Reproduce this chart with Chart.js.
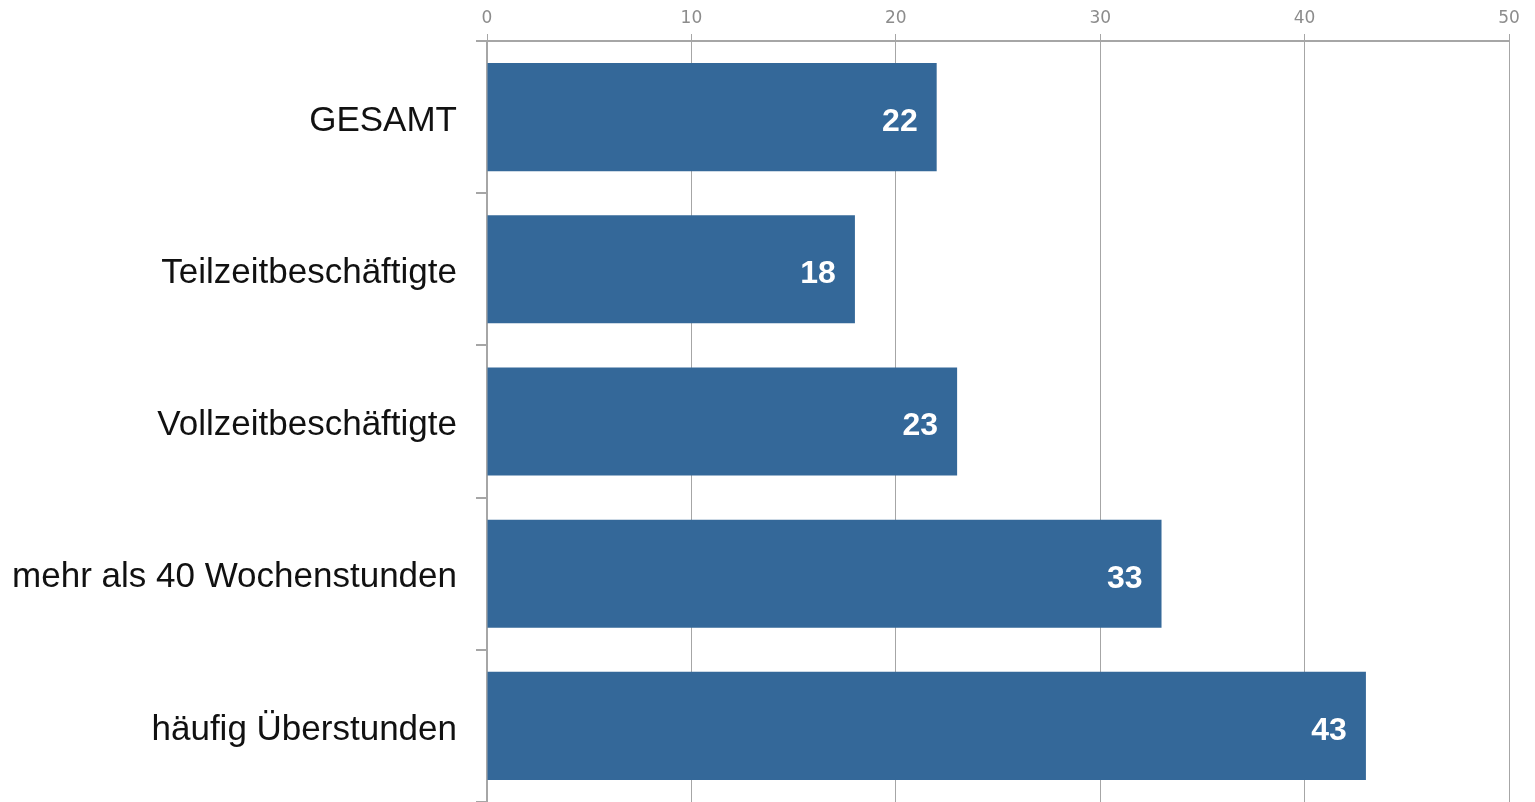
<!DOCTYPE html>
<html>
<head>
<meta charset="utf-8">
<script src="https://cdn.jsdelivr.net/npm/chart.js@4/dist/chart.umd.min.js"></script>
<style>
html,body{margin:0;padding:0;background:#fff;}
#wrap{width:1535px;height:802px;}
</style>
</head>
<body>
<div id="wrap"><canvas id="c" width="1535" height="802"></canvas></div>
<script>
const categories = ["GESAMT", "Teilzeitbeschäftigte", "Vollzeitbeschäftigte", "mehr als 40 Wochenstunden", "häufig Überstunden"];
const values = [22, 18, 23, 33, 43];
const xTicks = [0, 10, 20, 30, 40, 50];

const barLabels = {
  id: 'barLabels',
  afterDatasetsDraw(chart) {
    const ctx = chart.ctx;
    const meta = chart.getDatasetMeta(0);
    ctx.save();
    ctx.fillStyle = '#ffffff';
    ctx.font = 'bold 32px "Liberation Sans", Arial, sans-serif';
    ctx.textAlign = 'right';
    ctx.textBaseline = 'middle';
    meta.data.forEach((bar, i) => {
      ctx.fillText(String(values[i]), bar.x - 19, bar.y + 5);
    });
    ctx.restore();
  }
};

new Chart(document.getElementById('c'), {
  type: 'bar',
  data: {
    labels: categories,
    datasets: [{
      data: values,
      backgroundColor: '#346899',
      borderWidth: 0,
      barPercentage: 0.71,
      categoryPercentage: 1.0
    }]
  },
  options: {
    indexAxis: 'y',
    responsive: false,
    animation: false,
    layout: { padding: { left: 0, right: 26, top: 0, bottom: 0 } },
    plugins: { legend: { display: false }, tooltip: { enabled: false } },
    scales: {
      x: {
        position: 'top',
        min: 0, max: 50,
        afterBuildTicks(scale) { scale.ticks = xTicks.map(v => ({ value: v })); },
        afterFit(scale) { scale.height = 41; },
        grid: { color: '#a6a6a6', lineWidth: 1, tickLength: 7, drawTicks: true },
        border: { color: '#a6a6a6', width: 2 },
        ticks: { color: '#8c8c8c', font: { family: '"DejaVu Sans", Verdana, sans-serif', size: 17 }, padding: 5 }
      },
      y: {
        afterFit(scale) { scale.width = 487; scale.paddingTop = 0; scale.paddingBottom = 0; },
        grid: { offset: true, drawOnChartArea: false, drawTicks: true, tickLength: 11, color: '#a6a6a6', lineWidth: 2 },
        border: { color: '#a6a6a6', width: 2 },
        ticks: { color: '#111111', font: { family: '"Liberation Sans", Arial, sans-serif', size: 35 }, padding: 19, labelOffset: 4 }
      }
    }
  },
  plugins: [barLabels]
});
</script>
</body>
</html>
